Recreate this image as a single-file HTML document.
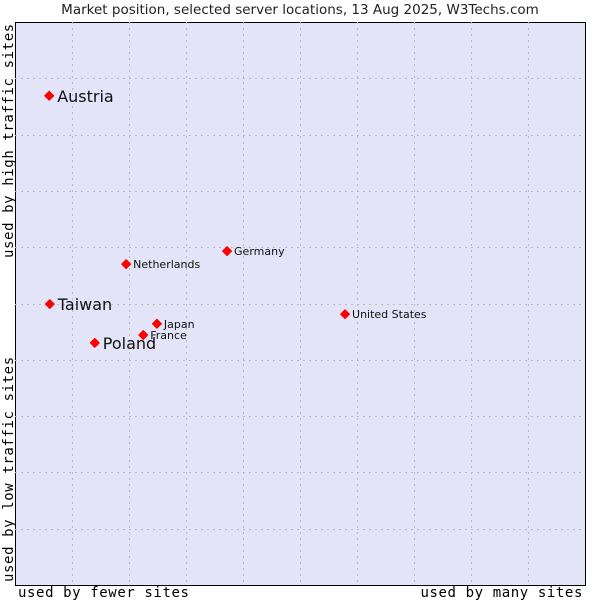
<!DOCTYPE html>
<html><head><meta charset="utf-8"><style>
body{margin:0;background:#fff}
svg text{font-family:"DejaVu Sans","Liberation Sans",sans-serif}
.mono{font-family:"DejaVu Sans Mono","Liberation Mono",monospace;letter-spacing:0.6px}
</style></head><body>
<svg id="c" width="600" height="600" xmlns="http://www.w3.org/2000/svg">
<text x="300" y="14" text-anchor="middle" font-size="13.5" fill="#222">Market position, selected server locations, 13 Aug 2025, W3Techs.com</text>
<rect x="15.5" y="22.5" width="570" height="563" fill="#e4e4f8" stroke="#000"/>
<g id="grid"></g>
<g id="pts"></g>
<text class="mono" x="18" y="597" font-size="14">used by fewer sites</text>
<text class="mono" x="583" y="597" font-size="14" text-anchor="end">used by many sites</text>
<text class="mono" transform="translate(13,582) rotate(-90)" font-size="14">used by low traffic sites</text>
<text class="mono" transform="translate(13,258) rotate(-90)" font-size="14">used by high traffic sites</text>
</svg>
<script>
const names=["Austria","Taiwan","Poland","Netherlands","Germany","United States","Japan","France"];
const xs=[0.6,0.61,1.4,1.95,3.72,5.79,2.49,2.25];
const ys=[8.69,4.99,4.3,5.7,5.93,4.81,4.64,4.44];
const big=[1,1,1,0,0,0,0,0];
const L=15,T=22,W=570,H=563;
const sx=v=>L+v/10*W, sy=v=>T+H-v/10*H;
const ns="http://www.w3.org/2000/svg";
const g=document.getElementById('grid'),p=document.getElementById('pts');
for(let i=1;i<10;i++){
 const a=document.createElementNS(ns,'line');
 
 
 const x=Math.round(sx(i))+0.5;
 a.setAttribute('x1',x);a.setAttribute('x2',x);a.setAttribute('y1',T);a.setAttribute('y2',T+H);
 a.setAttribute('stroke','#bbb');a.setAttribute('stroke-dasharray','2,4');g.appendChild(a);
 const b=document.createElementNS(ns,'line');
 
 
 const y=Math.round(sy(i))+0.5;
 b.setAttribute('y1',y);b.setAttribute('y2',y);b.setAttribute('x1',L);b.setAttribute('x2',L+W);
 b.setAttribute('stroke','#bbb');b.setAttribute('stroke-dasharray','2,4');g.appendChild(b);
}
names.forEach((n,i)=>{
 const x=sx(xs[i]),y=sy(ys[i]);
 const d=document.createElementNS(ns,'path');
 
 
 d.setAttribute('d',`M${x-4.5},${y} L${x},${y-4.5} L${x+4.5},${y} L${x},${y+4.5}Z`);
 d.setAttribute('fill','#f00');d.setAttribute('stroke','#f00');d.setAttribute('stroke-linejoin','round');
 p.appendChild(d);
 const t=document.createElementNS(ns,'text');
 
 
 t.setAttribute('x',x+(big[i]?8:7));t.setAttribute('y',y+(big[i]?6:4));
 t.setAttribute('font-size',big[i]?16:11);t.setAttribute('fill','#111');
 t.textContent=n;p.appendChild(t);
});
</script>
</body></html>
